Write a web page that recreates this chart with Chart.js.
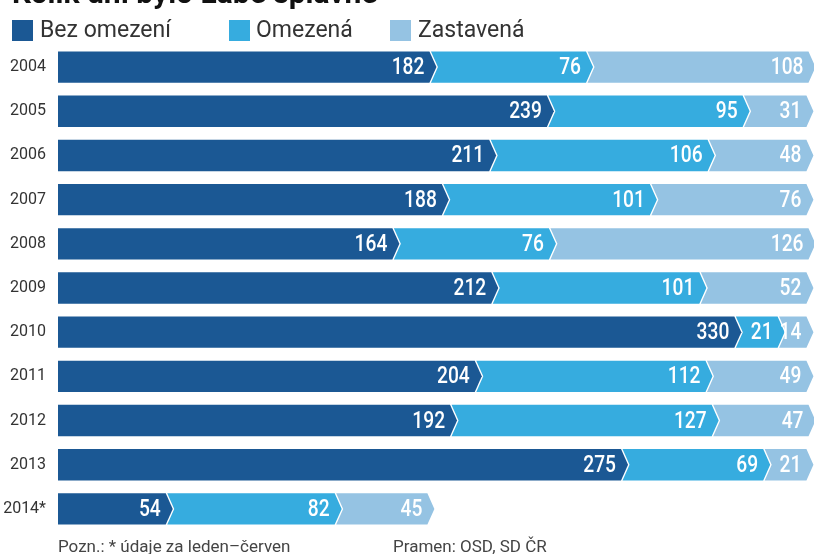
<!DOCTYPE html>
<html>
<head>
<meta charset="utf-8">
<script src="https://cdn.jsdelivr.net/npm/chart.js@4"></script>
<style>
  html, body { margin: 0; padding: 0; background: #fff; }
  #wrap { width: 814px; height: 554px; position: relative; }
</style>
</head>
<body>
<div id="wrap"><canvas id="myChart" width="814" height="554"></canvas></div>
<script>
var years = ['2004', '2005', '2006', '2007', '2008', '2009', '2010', '2011', '2012', '2013', '2014*'];
var bezOmezeni = [182, 239, 211, 188, 164, 212, 330, 204, 192, 275, 54];
var omezena = [76, 95, 106, 101, 76, 101, 21, 112, 127, 69, 82];
var zastavena = [108, 31, 48, 76, 126, 52, 14, 49, 47, 21, 45];
var seriesNames = ['Bez omezení', 'Omezená', 'Zastavená'];
var colors = ['#1b5894', '#36acdf', '#95c3e3'];

var FONT = 'Roboto, "Liberation Sans", sans-serif';

// bars are drawn as chevrons from the element geometry
var chevrons = {
    id: 'chevrons',
    afterDatasetsDraw: function (chart) {
        var ctx = chart.ctx;
        var h = 3.5, g = 1.5, squeeze = 0.8;
        ctx.save();
        chart.data.datasets.forEach(function (ds, di) {
            var meta = chart.getDatasetMeta(di);
            meta.data.forEach(function (bar, i) {
                var xb = bar.base, xe = bar.x;
                var t = bar.y - bar.height / 2, b = bar.y + bar.height / 2, cy = bar.y;
                ctx.beginPath();
                if (di === 0) {
                    ctx.moveTo(xb, t);
                } else {
                    ctx.moveTo(xb - h + g, t);
                }
                ctx.lineTo(xe - h, t);
                ctx.lineTo(xe + h, cy);
                ctx.lineTo(xe - h, b);
                if (di === 0) {
                    ctx.lineTo(xb, b);
                } else {
                    ctx.lineTo(xb - h + g, b);
                    ctx.lineTo(xb + h + g, cy);
                }
                ctx.closePath();
                ctx.fillStyle = colors[di];
                ctx.fill();

                // condensed-looking value label
                ctx.save();
                ctx.translate(xe - h - 5, cy + 1);
                ctx.scale(squeeze, 1);
                ctx.fillStyle = '#ffffff';
                ctx.font = '500 24px ' + FONT;
                ctx.textAlign = 'right';
                ctx.textBaseline = 'middle';
                ctx.fillText(ds.data[i], 0, 0);
                ctx.restore();
            });
        });
        ctx.restore();
    }
};

// title (cut off at the top), legend and footer
var extras = {
    id: 'extras',
    afterDraw: function (chart) {
        var ctx = chart.ctx;
        ctx.save();
        ctx.fillStyle = '#111';
        ctx.font = 'bold 30px ' + FONT;
        ctx.textAlign = 'left';
        ctx.textBaseline = 'alphabetic';
        ctx.fillText('Kolik dní bylo Labe splavné', 12, 3);

        var legendX = [[12, 40], [229, 256], [390, 418]];
        ctx.font = '23px ' + FONT;
        ctx.textBaseline = 'middle';
        seriesNames.forEach(function (name, k) {
            ctx.fillStyle = colors[k];
            ctx.fillRect(legendX[k][0], 20, 21, 21);
            ctx.fillStyle = '#333';
            ctx.fillText(name, legendX[k][1], 31);
        });

        ctx.font = '17px ' + FONT;
        ctx.fillStyle = '#444';
        ctx.textBaseline = 'alphabetic';
        ctx.fillText('Pozn.: * údaje za leden–červen', 58, 552);
        ctx.fillText('Pramen: OSD, SD ČR', 393, 552);
        ctx.restore();
    }
};

var ctx = document.getElementById('myChart').getContext('2d');
var myChart = new Chart(ctx, {
    type: 'bar',
    data: {
        labels: years,
        datasets: [
            { label: seriesNames[0], data: bezOmezeni, backgroundColor: 'rgba(0,0,0,0)' },
            { label: seriesNames[1], data: omezena, backgroundColor: 'rgba(0,0,0,0)' },
            { label: seriesNames[2], data: zastavena, backgroundColor: 'rgba(0,0,0,0)' }
        ]
    },
    options: {
        indexAxis: 'y',
        responsive: false,
        animation: false,
        layout: { padding: { top: 45, bottom: 23, left: 0, right: 2 } },
        datasets: {
            bar: { categoryPercentage: 1, barPercentage: 0.71 }
        },
        plugins: {
            legend: { display: false },
            tooltip: { enabled: false }
        },
        scales: {
            x: {
                stacked: true,
                min: 0,
                max: 366,
                display: false
            },
            y: {
                stacked: true,
                grid: { display: false },
                border: { display: false },
                ticks: {
                    color: '#333',
                    padding: 4,
                    font: { family: FONT, size: 16 }
                },
                afterFit: function (scale) { scale.width = 58; }
            }
        }
    },
    plugins: [chevrons, extras]
});
</script>
</body>
</html>
